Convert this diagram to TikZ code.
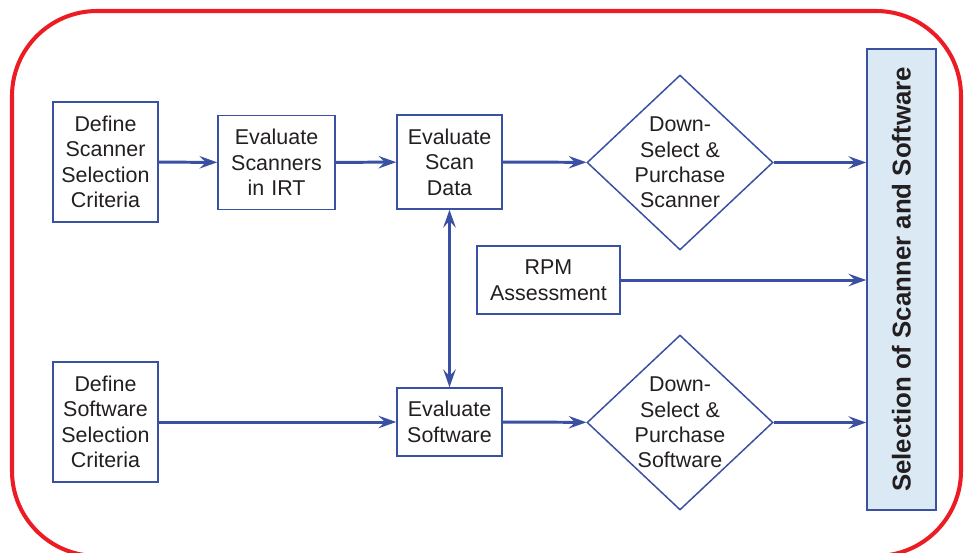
\documentclass[tikz,border=0pt]{standalone}
\usepackage{fontspec}
\setmainfont{Liberation Sans}
\usetikzlibrary{arrows.meta}
\usetikzlibrary{calc}
\usetikzlibrary{shapes.geometric,positioning}
\definecolor{flowblue}{RGB}{58,80,163}
\definecolor{framered}{RGB}{237,28,36}
\definecolor{selfill}{RGB}{219,233,244}
\definecolor{textgray}{RGB}{35,31,32}

\begin{document}
\begin{tikzpicture}[x=0.02cm, y=-0.02cm,
    >={Stealth[length=10pt,width=7pt,inset=3.5pt]},
    box/.style={draw=flowblue, line width=0.85pt, align=center, inner sep=0pt,
      text width=1.9cm, text=textgray, font=\fontsize{12.2}{14.5}\selectfont},
    decision/.style={diamond, draw=flowblue, line width=0.85pt, inner sep=0pt,
      minimum width=3.72cm, minimum height=3.5cm},
    decisiontext/.style={align=center, text=textgray, font=\fontsize{12.2}{14.5}\selectfont},
    flow/.style={draw=flowblue, line width=1.7pt, ->}]
        % Fix the page and clip the red frame
        \path[use as bounding box, clip] (0,0) rectangle (964,552);
        \draw[framered, line width=2.3pt, rounded corners=1.7cm] (12,11) rectangle (961,556);
        % Scanner row
        \node[box, minimum width=2.1cm, minimum height=2.4cm] (defScan) at (105.5,162) {Define\\Scanner\\Selection\\Criteria};
        \node[box, minimum width=2.34cm, minimum height=1.88cm] (evalScan) at (276.5,162.5) {Evaluate\\Scanners\\in IRT};
        \node[box, minimum width=2.1cm, minimum height=1.88cm] (evalData) at (449.5,162) {Evaluate\\Scan\\Data};
        \node[decision] (buyScan) at (680,162.5) {};
        \node[decisiontext] (buyScanText) at (buyScan.center) {Down-\\Select \&\\Purchase\\Scanner};
        % RPM assessment
        \node[box, text width=2.6cm, minimum width=2.86cm, minimum height=1.36cm] (rpm) at (548.5,280) {RPM\\Assessment};
        % Software row
        \node[box, minimum width=2.1cm, minimum height=2.4cm] (defSoft) at (105.5,422) {Define\\Software\\Selection\\Criteria};
        \node[box, minimum width=2.1cm, minimum height=1.36cm] (evalSoft) at (449.5,422) {Evaluate\\Software};
        \node[decision] (buySoft) at (680,422.5) {};
        \node[decisiontext] (buySoftText) at (buySoft.center) {Down-\\Select \&\\Purchase\\Software};
        % Final selection
        \node[draw=flowblue, fill=selfill, line width=0.85pt, inner sep=0pt,
          minimum width=1.38cm, minimum height=9.22cm] (sel) at (901.5,279.5) {};
        \node[rotate=90, text=textgray, font=\fontsize{14.7}{17}\selectfont\bfseries] (selText) at (sel.center) {Selection of Scanner and Software};
        % Connectors
        \draw[flow] (defScan) -- (evalScan);
        \draw[flow] (evalScan) -- (evalData);
        \draw[flow] (evalData) -- (buyScan);
        \draw[flow] (buyScan.east) -- (buyScan.east -| sel.west);
        \draw[flow] (rpm.east) -- (rpm.east -| sel.west);
        \draw[flow] (defSoft) -- (evalSoft);
        \draw[flow] (evalSoft) -- (buySoft);
        \draw[flow] (buySoft.east) -- (buySoft.east -| sel.west);
        \draw[flow, <->] (evalData) -- (evalSoft);
\end{tikzpicture}
\end{document}
